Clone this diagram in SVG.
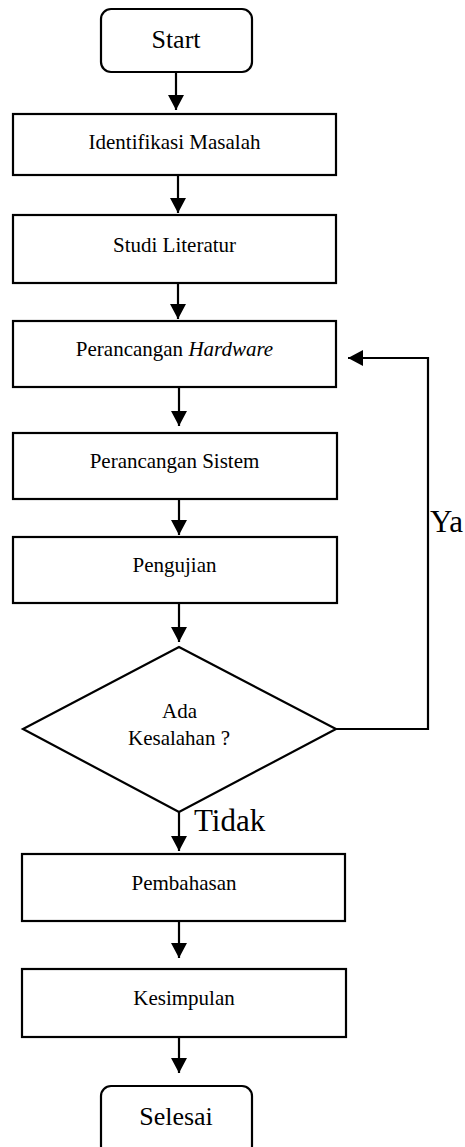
<svg xmlns="http://www.w3.org/2000/svg" width="465" height="1147" viewBox="0 0 465 1147">
<style>
.box{fill:#fff;stroke:#000;stroke-width:2.2}
.t{font-family:"Liberation Serif","Times New Roman",serif;font-size:21px;fill:#000;text-anchor:middle}
.tb{font-family:"Liberation Serif","Times New Roman",serif;font-size:26px;fill:#000;text-anchor:middle}
.lbl{font-family:"Liberation Serif","Times New Roman",serif;font-size:31px;fill:#000}
.c{fill:none;stroke:#000;stroke-width:2.2}
</style>
<defs>
<marker id="ah" markerUnits="userSpaceOnUse" markerWidth="16" markerHeight="16" viewBox="0 0 16 16" refX="15" refY="8" orient="auto">
<path d="M0,0 L15,8 L0,16 Z" fill="#000"/>
</marker>
</defs>
<rect width="465" height="1147" fill="#fff"/>
<g id="connectors">
<line class="c" x1="176" y1="72" x2="176" y2="110" marker-end="url(#ah)"/>
<line class="c" x1="178" y1="175" x2="178" y2="213" marker-end="url(#ah)"/>
<line class="c" x1="178" y1="283" x2="178" y2="319" marker-end="url(#ah)"/>
<line class="c" x1="179" y1="387" x2="179" y2="426" marker-end="url(#ah)"/>
<line class="c" x1="179" y1="499" x2="179" y2="535" marker-end="url(#ah)"/>
<line class="c" x1="179" y1="603" x2="179" y2="642" marker-end="url(#ah)"/>
<polyline class="c" points="336,729 428,729 428,358 348,358" marker-end="url(#ah)"/>
<line class="c" x1="179" y1="812" x2="179" y2="851" marker-end="url(#ah)"/>
<line class="c" x1="179" y1="921" x2="179" y2="958" marker-end="url(#ah)"/>
<line class="c" x1="179" y1="1037" x2="179" y2="1073" marker-end="url(#ah)"/>
<text class="lbl" x="430" y="532">Ya</text>
<text class="lbl" x="194" y="831">Tidak</text>
</g>
<g id="start">
<rect class="box" x="101" y="9" width="151" height="63" rx="10"/>
<text class="tb" x="176" y="48">Start</text>
</g>
<g id="identifikasi">
<rect class="box" x="13" y="114" width="323" height="61"/>
<text class="t" x="174.5" y="149">Identifikasi Masalah</text>
</g>
<g id="studi">
<rect class="box" x="13" y="215" width="323" height="68"/>
<text class="t" x="174.5" y="252">Studi Literatur</text>
</g>
<g id="hardware">
<rect class="box" x="13" y="321" width="323" height="66"/>
<text class="t" x="174.5" y="356">Perancangan <tspan font-style="italic">Hardware</tspan></text>
</g>
<g id="sistem">
<rect class="box" x="13" y="433" width="324" height="66"/>
<text class="t" x="174.5" y="468">Perancangan Sistem</text>
</g>
<g id="pengujian">
<rect class="box" x="13" y="537" width="324" height="66"/>
<text class="t" x="174.5" y="572">Pengujian</text>
</g>
<g id="keputusan">
<polygon class="box" points="179,647 336,729 179,812 23,729"/>
<text class="t" x="179.5" y="718">Ada</text>
<text class="t" x="179" y="745">Kesalahan ?</text>
</g>
<g id="pembahasan">
<rect class="box" x="22" y="854" width="323" height="67"/>
<text class="t" x="184" y="890">Pembahasan</text>
</g>
<g id="kesimpulan">
<rect class="box" x="22" y="969" width="324" height="68"/>
<text class="t" x="184" y="1005">Kesimpulan</text>
</g>
<g id="selesai">
<rect class="box" x="101" y="1086" width="151" height="70" rx="10"/>
<text class="tb" x="176" y="1125">Selesai</text>
</g>
</svg>
